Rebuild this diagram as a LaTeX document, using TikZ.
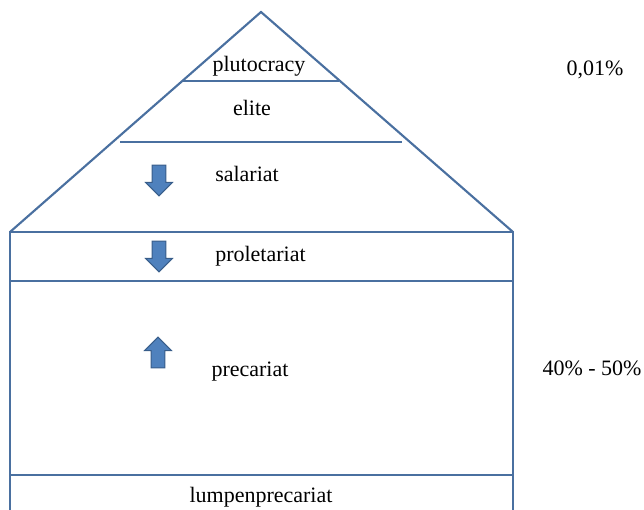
\documentclass[tikz,border=0pt]{standalone}
\usepackage{fontspec}
\setmainfont{Liberation Serif}
\usetikzlibrary{shapes.arrows}
\definecolor{layerline}{RGB}{74,112,160}
\definecolor{arrowfill}{RGB}{79,129,189}
\definecolor{arrowedge}{RGB}{56,93,138}
\begin{document}
\begin{tikzpicture}[x=0.75pt, y=-0.75pt,
    layer/.style={draw=layerline, line width=1.6pt},
    stratum/.style={font=\fontsize{16.5}{20}\selectfont, anchor=base, inner sep=0pt},
    shiftarrow/.style={single arrow, fill=arrowfill, draw=arrowedge, line width=0.8pt,
        inner xsep=0pt, inner ysep=4.8pt, minimum height=23pt, single arrow head extend=4.8pt}]
\useasboundingbox (0,0) rectangle (644,510);
\coordinate (apex) at (261,12);
\coordinate (baseL) at (10,232);
\coordinate (baseR) at (513,232);
\coordinate (footL) at (10,515);
\coordinate (footR) at (513,515);
\coordinate (plutoL) at (182,81);
\coordinate (plutoR) at (339,81);
\coordinate (eliteL) at (120,142);
\coordinate (eliteR) at (402,142);
\coordinate (proleL) at (10,281);
\coordinate (proleR) at (513,281);
\coordinate (lumpL) at (10,475);
\coordinate (lumpR) at (513,475);
\draw[layer] (baseL) -- (apex) -- (baseR);
\draw[layer] (footL) -- (baseL) -- (baseR) -- (footR);
\draw[layer] (plutoL) -- (plutoR);
\draw[layer] (eliteL) -- (eliteR);
\draw[layer] (proleL) -- (proleR);
\draw[layer] (lumpL) -- (lumpR);
\node[stratum] (pluto) at (259,72) {plutocracy};
\node[stratum] (elite) at (252,115.5) {elite};
\node[stratum, anchor=base west] (salar) at (215,181.5) {salariat};
\node[stratum, anchor=base west] (prole) at (215,261.5) {proletariat};
\node[stratum] (preca) at (250,377) {precariat};
\node[stratum] (lumpen) at (261,502) {lumpenprecariat};
\node[stratum] (topshare) at (595,76) {0,01\%};
\node[stratum] (precshare) at (592,376) {40\% - 50\%};
\node[shiftarrow, rotate=-90] (salardown) at (159,177) {};
\node[shiftarrow, rotate=-90] (proledown) at (159,253) {};
\node[shiftarrow, rotate=90] (precaup) at (158,356) {};
\end{tikzpicture}
\end{document}
